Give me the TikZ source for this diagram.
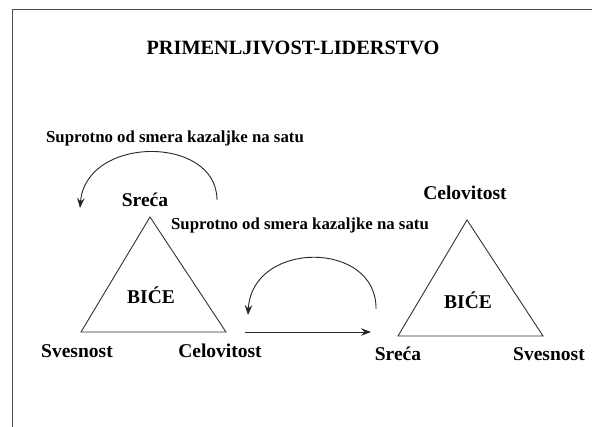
\documentclass[tikz,border=0pt]{standalone}
\usepackage{fontspec}
\setmainfont{Liberation Serif}
\usetikzlibrary{arrows.meta}
\begin{document}
\begin{tikzpicture}[x=1pt,y=-1pt,
  lbl/.style={font=\fontsize{19.5}{22}\selectfont\bfseries, inner sep=0pt},
  ttl/.style={font=\fontsize{20.3}{23}\selectfont\bfseries, inner sep=0pt},
  small/.style={font=\fontsize{16.8}{19}\selectfont\bfseries, inner sep=0pt},
  tri/.style={draw=black!80, line width=0.9pt},
  arr/.style={draw=black!85, line width=0.9pt, -{Stealth[length=10pt,width=7.5pt,inset=3.5pt]}},
  frame/.style={draw=black!70, line width=1pt}]
\useasboundingbox (0,0) rectangle (592,427);
\fill[white] (0,0) rectangle (592,427);
% frame
\coordinate (f1) at (12.5,427);
\coordinate (f2) at (12.5,9.5);
\coordinate (f3) at (592,9.5);
\draw[frame] (f1) -- (f2) -- (f3);
% title
\node[ttl] (title) at (293,48) {PRIMENLJIVOST-LIDERSTVO};
% labels for arcs
\node[small] (s1) at (175,138) {Suprotno od smera kazaljke na satu};
\node[small] (s2) at (300,225) {Suprotno od smera kazaljke na satu};
% triangle 1
\coordinate (t1a) at (150,217);
\coordinate (t1l) at (81,332);
\coordinate (t1r) at (226,332);
\draw[tri] (t1a) -- (t1l) -- (t1r) -- cycle;
\node[lbl] (b1) at (151,295) {BIĆE};
\node[lbl] (sreca1) at (145,200) {Sreća};
\node[lbl] (svest1) at (77,351) {Svesnost};
\node[lbl] (celo1) at (220,351) {Celovitost};
% triangle 2
\coordinate (t2a) at (467,220);
\coordinate (t2l) at (398,336);
\coordinate (t2r) at (543,336);
\draw[tri] (t2a) -- (t2l) -- (t2r) -- cycle;
\node[lbl] (b2) at (468,300) {BIĆE};
\node[lbl] (celo2) at (465,193) {Celovitost};
\node[lbl] (sreca2) at (398,354) {Sreća};
\node[lbl] (svest2) at (549,354) {Svesnost};
% arcs
\coordinate (a1s) at (217,200);
\coordinate (a1e) at (80,208);
\draw[arr] (a1s) .. controls (217,135) and (86,135) .. (a1e);
\coordinate (a2s) at (376,309);
\coordinate (a2e) at (248,315);
\draw[arr] (a2s) .. controls (377,240) and (252,240) .. (a2e);
% horizontal arrow
\coordinate (h1) at (245,332);
\coordinate (h2) at (371,332);
\draw[arr] (h1) -- (h2);
\end{tikzpicture}
\end{document}
